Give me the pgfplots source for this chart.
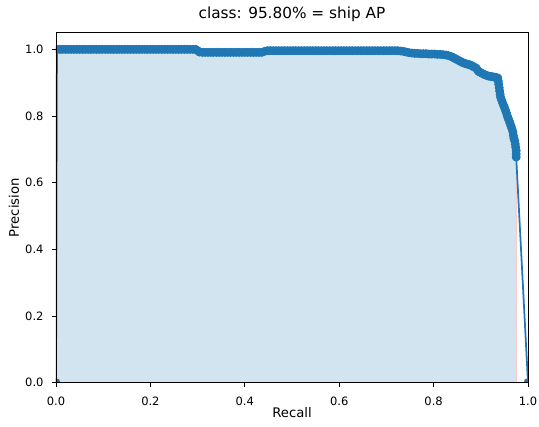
\documentclass[border=0pt]{standalone}
\usepackage{fontspec}
\setmainfont{DejaVu Sans}
\usepackage{pgfplots}
\pgfplotsset{compat=1.18}
\definecolor{tabblue}{HTML}{1F77B4}
\definecolor{fillblue}{RGB}{210,228,240}
\definecolor{edgepink}{RGB}{255,204,204}
\begin{document}
\begin{tikzpicture}
\begin{axis}[
  at={(0,0)}, anchor=south west,
  scale only axis, width=472pt, height=350pt,
  xmin=0, xmax=1, ymin=0, ymax=1.05,
  xtick={0,0.2,0.4,0.6,0.8,1.0}, ytick={0,0.2,0.4,0.6,0.8,1.0},
  /pgf/number format/.cd, fixed, fixed zerofill, precision=1, assume math mode=true, /pgfplots/.cd,
  axis line style={line width=0.9pt, black},
  tick style={line width=0.9pt, black},
  tick align=outside, major tick length=4pt,
  xtick pos=bottom, ytick pos=left,
  ticklabel style={font=\fontsize{11.5}{13}\selectfont},
  xticklabel style={anchor=base, inner sep=0pt, yshift=-18.6pt},
  yticklabel style={anchor=east, inner sep=0pt, xshift=-8.3pt},
  title={class: 95.80\% = ship AP},
  title style={font=\fontsize{15.3}{17}\selectfont, at={(0.5,1.022)}, anchor=base},
  xlabel={Recall}, ylabel={Precision},
  label style={font=\fontsize{13.2}{15}\selectfont},
  xlabel style={at={(0.5,-0.1)}, anchor=base},
  ylabel style={at={(-0.0784,0.5)}, anchor=base},
  axis on top,
  clip marker paths=true,
]
% area under interpolated precision curve
\addplot[fill=fillblue, draw=edgepink, line width=1.2pt] coordinates {
(0,1) (0.296,1) (0.300,0.996) (0.724,0.996) (0.730,0.995) (0.742,0.992)
(0.760,0.988) (0.790,0.986) (0.820,0.984) (0.838,0.978) (0.850,0.969)
(0.862,0.960) (0.878,0.953) (0.890,0.944) (0.900,0.930) (0.912,0.922)
(0.936,0.914) (0.938,0.895) (0.942,0.856) (0.950,0.826) (0.960,0.786)
(0.968,0.752) (0.972,0.725) (0.975,0.696) (0.975,0.677)
} \closedcycle;
% precision-recall curve
\addplot[color=tabblue, line width=1.75pt, mark=*, mark size=4pt,
  mark options={fill=tabblue, draw=tabblue, line width=0.9pt}] table[row sep=\\] {
r p\\
0 0\\
0.002 1\\ 0.008 1\\ 0.014 1\\ 0.020 1\\ 0.026 1\\ 0.032 1\\ 0.038 1\\ 0.044 1\\ 0.050 1\\ 0.056 1\\
0.062 1\\ 0.068 1\\ 0.074 1\\ 0.080 1\\ 0.086 1\\ 0.092 1\\ 0.098 1\\ 0.104 1\\ 0.110 1\\ 0.116 1\\
0.122 1\\ 0.128 1\\ 0.134 1\\ 0.140 1\\ 0.146 1\\ 0.152 1\\ 0.158 1\\ 0.164 1\\ 0.170 1\\ 0.176 1\\
0.182 1\\ 0.188 1\\ 0.194 1\\ 0.200 1\\ 0.206 1\\ 0.212 1\\ 0.218 1\\ 0.224 1\\ 0.230 1\\ 0.236 1\\
0.242 1\\ 0.248 1\\ 0.254 1\\ 0.260 1\\ 0.266 1\\ 0.272 1\\ 0.278 1\\ 0.284 1\\ 0.290 1\\ 0.296 1\\
0.300 0.996\\ 0.304 0.992\\
0.310 0.991\\ 0.316 0.991\\ 0.322 0.991\\ 0.328 0.991\\ 0.334 0.991\\ 0.340 0.991\\ 0.346 0.991\\
0.352 0.991\\ 0.358 0.991\\ 0.364 0.991\\ 0.370 0.991\\ 0.376 0.991\\ 0.382 0.991\\ 0.388 0.991\\
0.394 0.991\\ 0.400 0.991\\ 0.406 0.991\\ 0.412 0.991\\ 0.418 0.991\\ 0.424 0.991\\ 0.430 0.991\\
0.436 0.991\\ 0.442 0.994\\
0.448 0.996\\ 0.454 0.996\\ 0.460 0.996\\ 0.466 0.996\\ 0.472 0.996\\ 0.478 0.996\\ 0.484 0.996\\
0.490 0.996\\ 0.496 0.996\\ 0.502 0.996\\ 0.508 0.996\\ 0.514 0.996\\ 0.520 0.996\\ 0.526 0.996\\
0.532 0.996\\ 0.538 0.996\\ 0.544 0.996\\ 0.550 0.996\\ 0.556 0.996\\ 0.562 0.996\\ 0.568 0.996\\
0.574 0.996\\ 0.580 0.996\\ 0.586 0.996\\ 0.592 0.996\\ 0.598 0.996\\ 0.604 0.996\\ 0.610 0.996\\
0.616 0.996\\ 0.622 0.996\\ 0.628 0.996\\ 0.634 0.996\\ 0.640 0.996\\ 0.646 0.996\\ 0.652 0.996\\
0.658 0.996\\ 0.664 0.996\\ 0.670 0.996\\ 0.676 0.996\\ 0.682 0.996\\ 0.688 0.996\\ 0.694 0.996\\
0.700 0.996\\ 0.706 0.996\\ 0.712 0.996\\ 0.718 0.996\\ 0.724 0.996\\
0.730 0.995\\ 0.736 0.994\\ 0.742 0.992\\ 0.748 0.990\\ 0.754 0.989\\ 0.760 0.988\\ 0.766 0.988\\
0.772 0.987\\ 0.778 0.987\\ 0.784 0.987\\ 0.790 0.986\\ 0.796 0.986\\ 0.802 0.986\\ 0.808 0.985\\
0.814 0.985\\ 0.820 0.984\\ 0.826 0.983\\ 0.832 0.981\\ 0.838 0.978\\ 0.842 0.975\\ 0.846 0.972\\
0.850 0.969\\ 0.854 0.966\\ 0.858 0.963\\ 0.862 0.960\\ 0.866 0.958\\ 0.870 0.956\\ 0.874 0.955\\
0.878 0.953\\ 0.882 0.950\\ 0.886 0.947\\ 0.890 0.944\\ 0.893 0.938\\ 0.896 0.933\\ 0.900 0.930\\
0.904 0.927\\ 0.908 0.924\\ 0.912 0.922\\ 0.916 0.920\\ 0.920 0.919\\ 0.924 0.918\\ 0.928 0.917\\
0.932 0.916\\ 0.936 0.914\\ 0.937 0.905\\ 0.938 0.895\\ 0.939 0.885\\ 0.940 0.875\\ 0.941 0.865\\
0.942 0.856\\ 0.944 0.848\\ 0.946 0.840\\ 0.948 0.833\\ 0.950 0.826\\ 0.952 0.818\\ 0.954 0.810\\
0.956 0.801\\ 0.958 0.793\\ 0.960 0.786\\ 0.962 0.778\\ 0.964 0.770\\ 0.966 0.762\\ 0.968 0.752\\
0.969 0.742\\ 0.970 0.733\\ 0.972 0.725\\ 0.973 0.716\\ 0.974 0.706\\ 0.975 0.696\\ 0.975 0.686\\
0.975 0.677\\
1 0\\
};
\end{axis}
\pgfresetboundingbox
\path[use as bounding box] (-56pt,-44.3pt) rectangle (483pt,382.7pt);
\end{tikzpicture}
\end{document}
